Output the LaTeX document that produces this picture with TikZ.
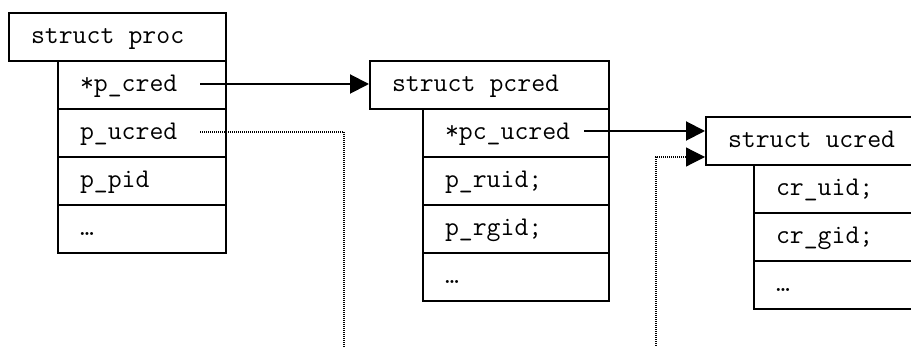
\documentclass[tikz,border=0pt]{standalone}
\usepackage{fontspec}
\usetikzlibrary{arrows.meta}
\newcommand\monosp{\hspace*{0.525em}}
\begin{document}
\begin{tikzpicture}[x=1pt,y=-1pt,
  fbox/.style={draw,line width=2pt,anchor=north west,inner xsep=22pt,inner ysep=0pt,
    text height=31pt,text depth=17pt,text width=#1,
    font=\ttfamily\fontsize{27}{30}\selectfont},
  ptr/.style={line width=2pt,-{Triangle[length=19pt,width=19pt]}},
  dots/.style={line width=1.2pt,dash pattern=on 1pt off 1pt},
  dotptr/.style={dots,-{Triangle[length=19pt,width=19pt]}}]
\useasboundingbox (0,0) rectangle (911,347);
\clip (0,0) rectangle (911,347);
% struct proc
\node[fbox=173pt] (proc) at (8,12) {struct\monosp proc};
\node[fbox=124pt] (pcredf) at (57,60) {*p\_cred};
\node[fbox=124pt] (pucred) at (57,108) {p\_ucred};
\node[fbox=124pt] (ppid) at (57,156) {p\_pid};
\node[fbox=124pt] (pdots) at (57,204) {…};
% struct pcred
\node[fbox=195pt] (pcred) at (369,60) {struct\monosp pcred};
\node[fbox=142pt] (pcucred) at (422,108) {*pc\_ucred};
\node[fbox=142pt] (pruid) at (422,156) {p\_ruid;};
\node[fbox=142pt] (prgid) at (422,204) {p\_rgid;};
\node[fbox=142pt] (pcdots) at (422,252) {…};
% struct ucred
\node[fbox=216pt] (ucred) at (705,116) {struct\monosp ucred};
\node[fbox=166pt] (cruid) at (753,164) {cr\_uid;};
\node[fbox=166pt] (crgid) at (753,212) {cr\_gid;};
\node[fbox=166pt] (crdots) at (753,260) {…};
% connectors
\coordinate (a1s) at (200,84);
\coordinate (a2s) at (584,131);
\coordinate (d1s) at (200,132);
\coordinate (d1k) at (344,132);
\coordinate (d1e) at (344,352);
\coordinate (d2s) at (656,352);
\coordinate (d2k) at (656,157);
\draw[ptr] (a1s) -- (pcred.west |- a1s);
\draw[ptr] (a2s) -- (ucred.west |- a2s);
\draw[dots] (d1s) -- (d1k) -- (d1e);
\draw[dotptr] (d2s) -- (d2k) -- (ucred.west |- d2k);
\end{tikzpicture}
\end{document}
